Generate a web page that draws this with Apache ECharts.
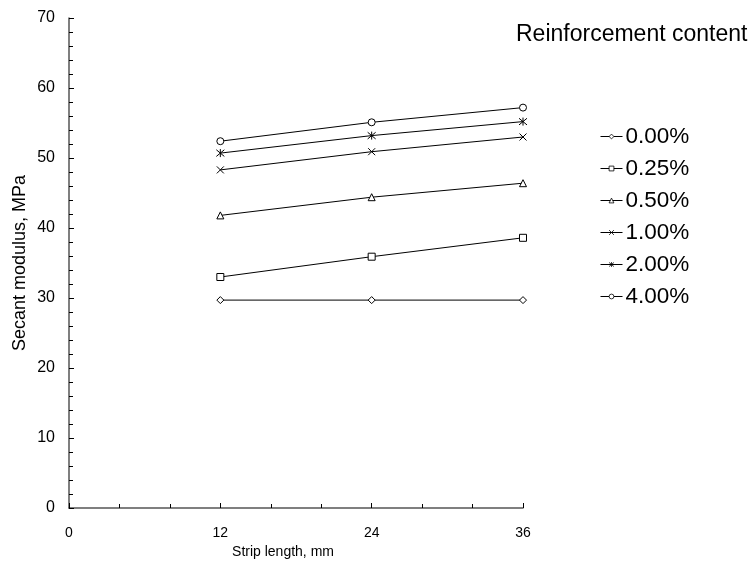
<!DOCTYPE html>
<html>
<head>
<meta charset="utf-8">
<script src="https://cdn.jsdelivr.net/npm/echarts@6/dist/echarts.min.js"></script>
<style>
  html, body { margin: 0; padding: 0; background: #fff; }
  #chart { width: 752px; height: 562px; }
</style>
</head>
<body>
<div id="chart"></div>
<script>
// Strip lengths (mm) at which secant modulus was measured
const stripLengths = [12, 24, 36];

// Reinforcement contents shown in the legend
const contents = ['0.00%', '0.25%', '0.50%', '1.00%', '2.00%', '4.00%'];

// Secant modulus (MPa) for each reinforcement content
const mod000 = [29.7, 29.7, 29.7];
const mod025 = [33.0, 35.9, 38.6];
const mod050 = [41.8, 44.4, 46.4];
const mod100 = [48.3, 50.9, 53.0];
const mod200 = [50.7, 53.2, 55.2];
const mod400 = [52.4, 55.1, 57.2];

const seriesValues = [mod000, mod025, mod050, mod100, mod200, mod400];

// Marker shapes, one per content level
const markers = [
  { symbol: 'diamond', size: 7 },
  { symbol: 'rect', size: 7 },
  { symbol: 'triangle', size: 7 },
  { symbol: 'path://M0,0L10,10M10,0L0,10', size: 7 },
  { symbol: 'path://M0,0L10,10M10,0L0,10M5,-1L5,11', size: 8 },
  { symbol: 'circle', size: 7 }
];

const chart = echarts.init(document.getElementById('chart'));

const series = contents.map((name, i) => ({
  name: name,
  type: 'line',
  data: stripLengths.map((x, j) => [x, seriesValues[i][j]]),
  symbol: markers[i].symbol,
  symbolSize: markers[i].size,
  showAllSymbol: true,
  lineStyle: { color: '#000', width: 1 },
  itemStyle: { color: '#fff', borderColor: '#000', borderWidth: 1 },
  emphasis: { disabled: true },
  animation: false
}));

chart.setOption({
  animation: false,
  textStyle: { fontFamily: 'Liberation Sans, Arial, sans-serif', color: '#000' },
  title: {
    text: 'Reinforcement content',
    left: 511,
    top: 18,
    textStyle: { fontSize: 23, fontWeight: 'normal', color: '#000', fontFamily: 'Liberation Sans, Arial, sans-serif' }
  },
  legend: {
    orient: 'vertical',
    left: 595,
    top: 120,
    itemWidth: 22,
    itemHeight: 6,
    itemGap: 9,
    data: contents,
    itemStyle: { borderWidth: 0.8 },
    lineStyle: { width: 1 },
    textStyle: { fontSize: 22.5, color: '#000', padding: [0, 0, 0, -2] }
  },
  grid: { left: 69, right: 229, top: 18, bottom: 54, outerBoundsMode: 'none', containLabel: false },
  xAxis: {
    type: 'value',
    min: 0,
    max: 36,
    interval: 12,
    name: 'Strip length, mm',
    nameLocation: 'middle',
    nameGap: 34,
    nameTextStyle: { fontSize: 14, color: '#000', padding: [0, 26, 0, 0] },
    axisLine: { lineStyle: { color: '#555', width: 1.5 } },
    axisTick: { inside: true, length: 5, lineStyle: { color: '#000' } },
    minorTick: { show: true, splitNumber: 3, length: 4, lineStyle: { color: '#000' } },
    axisLabel: { fontSize: 14, color: '#000', margin: 18 },
    splitLine: { show: false }
  },
  yAxis: {
    type: 'value',
    min: 0,
    max: 70,
    interval: 10,
    name: 'Secant modulus, MPa',
    nameLocation: 'middle',
    nameGap: 40,
    nameMoveOverlap: false,
    nameTextStyle: { fontSize: 18, color: '#000' },
    axisLine: { show: true, lineStyle: { color: '#555', width: 1.5 } },
    axisTick: { show: true, inside: true, length: 5, lineStyle: { color: '#000' } },
    minorTick: { show: true, splitNumber: 5, length: 4, lineStyle: { color: '#000' } },
    axisLabel: { fontSize: 16, color: '#000', margin: 14 },
    splitLine: { show: false }
  },
  series: series
});
</script>
</body>
</html>
